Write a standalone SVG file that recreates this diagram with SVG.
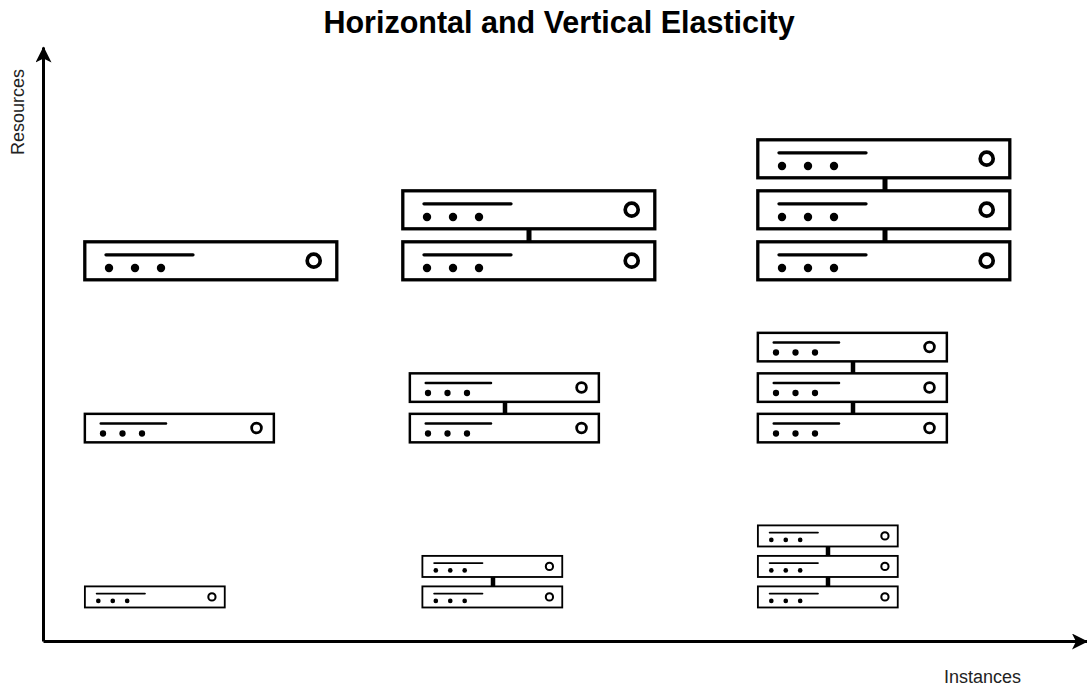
<svg xmlns="http://www.w3.org/2000/svg" width="1087" height="687" viewBox="0 0 1087 687">
<style>
text{font-family:"Liberation Sans",Arial,sans-serif;fill:#222}
.title{font-size:30.500px;font-weight:bold;fill:#000;text-anchor:middle}
.axis-label{font-size:18px}
.axis{fill:none;stroke:#000;stroke-width:3}
.box{fill:#fff;stroke:#000;stroke-width:3.300}
.bar{fill:none;stroke:#000;stroke-width:3.300;stroke-linecap:round}
.knob{fill:none;stroke:#000;stroke-width:3.700}
.link{stroke:#000;fill:none}
</style>
<defs>
<marker id="arrow" markerUnits="userSpaceOnUse" markerWidth="18" markerHeight="18" refX="15" refY="8" orient="auto">
<path d="M0 0L16 8L0 16L4 8Z" fill="#000"/>
</marker>
<g id="srv">
<rect class="box" x="-.2" y="-.2" width="252" height="38"/>
<path class="bar" d="M21 12.800H108"/>
<circle cx="24" cy="26" r="4.200"/><circle cx="50" cy="26" r="4.200"/><circle cx="76" cy="26" r="4.200"/>
<circle class="knob" cx="228.700" cy="18.700" r="6.500"/>
</g>
</defs>
<rect width="1087" height="687" fill="#fff"/>
<text class="title" x="559" y="33">Horizontal and Vertical Elasticity</text>
<g id="connectors">
<path class="axis" marker-end="url(#arrow)" d="M43.500 641.500V47.500"/>
<path class="axis" marker-end="url(#arrow)" d="M43.500 641.500H1087"/>
<path class="link" stroke-width="5" d="M529 228V242M885 177V191M885 228V242"/>
<path class="link" stroke-width="4.500" d="M505 401V414M853 360V373M853 401V414"/>
<path class="link" stroke-width="4.500" d="M493 576V586M828 546V556M828 576V586"/>
</g>
<g id="large-1"><use href="#srv" x="85" y="242"/></g>
<g id="large-2a"><use href="#srv" x="403" y="242"/></g>
<g id="large-2b"><use href="#srv" x="403" y="191"/></g>
<g id="large-3a"><use href="#srv" x="758" y="242"/></g>
<g id="large-3b"><use href="#srv" x="758" y="191"/></g>
<g id="large-3c"><use href="#srv" x="758" y="140"/></g>
<g id="medium-1"><use href="#srv" transform="translate(85 414) scale(.75)"/></g>
<g id="medium-2a"><use href="#srv" transform="translate(410 414) scale(.75)"/></g>
<g id="medium-2b"><use href="#srv" transform="translate(410 373.500) scale(.75)"/></g>
<g id="medium-3a"><use href="#srv" transform="translate(758 414) scale(.75)"/></g>
<g id="medium-3b"><use href="#srv" transform="translate(758 373.500) scale(.75)"/></g>
<g id="medium-3c"><use href="#srv" transform="translate(758 333) scale(.75)"/></g>
<g id="small-1"><use href="#srv" transform="translate(85 586.500) scale(.555)"/></g>
<g id="small-2a"><use href="#srv" transform="translate(422.500 586.500) scale(.555)"/></g>
<g id="small-2b"><use href="#srv" transform="translate(422.500 556) scale(.555)"/></g>
<g id="small-3a"><use href="#srv" transform="translate(758 586.500) scale(.555)"/></g>
<g id="small-3b"><use href="#srv" transform="translate(758 556) scale(.555)"/></g>
<g id="small-3c"><use href="#srv" transform="translate(758 525.500) scale(.555)"/></g>
<text class="axis-label" x="944" y="683">Instances</text>
<text class="axis-label" transform="translate(24 155) rotate(-90)">Resources</text>
</svg>
